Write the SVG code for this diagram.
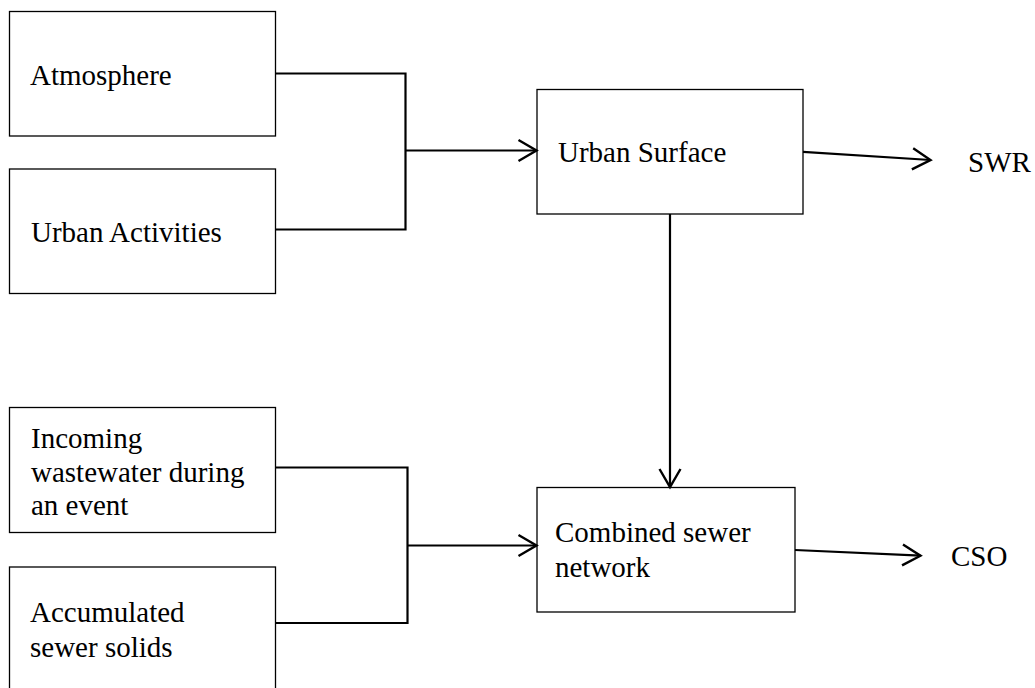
<svg xmlns="http://www.w3.org/2000/svg" width="1035" height="688" viewBox="0 0 1035 688">
<style>
.box{fill:#fff;stroke:#000;stroke-width:1.3}
.lbl{font-family:"Liberation Serif","Times New Roman",serif;font-size:29px;fill:#000}
.con{fill:none;stroke:#000;stroke-width:2.2}
</style>
<defs>
<marker id="arr" markerUnits="userSpaceOnUse" markerWidth="24" markerHeight="26" refX="20" refY="12" orient="auto" overflow="visible">
<path d="M2,1.5 L20,12 L2,22.5" fill="none" stroke="#000" stroke-width="2.4"/>
</marker>
</defs>
<rect width="1035" height="688" fill="#fff"/>
<g id="atmosphere"><rect class="box" x="9.5" y="11.5" width="266" height="124.5"/><text class="lbl" x="30" y="85">Atmosphere</text></g>
<g id="urban-activities"><rect class="box" x="9.5" y="169" width="266" height="124.5"/><text class="lbl" x="31" y="241.5">Urban Activities</text></g>
<g id="urban-surface"><rect class="box" x="537" y="89.5" width="266" height="124.5"/><text class="lbl" x="558" y="161.5">Urban Surface</text></g>
<g id="swr"><text class="lbl" x="968" y="171.5">SWR</text></g>
<g id="incoming"><rect class="box" x="9.5" y="407.5" width="266" height="125"/><text class="lbl" x="31" y="448">Incoming</text><text class="lbl" x="31" y="482">wastewater during</text><text class="lbl" x="31" y="515">an event</text></g>
<g id="accumulated"><rect class="box" x="9.5" y="567" width="266" height="130"/><text class="lbl" x="30" y="621.5">Accumulated</text><text class="lbl" x="30" y="656.5">sewer solids</text></g>
<g id="combined"><rect class="box" x="537" y="487.5" width="258" height="124.5"/><text class="lbl" x="555" y="541.5">Combined sewer</text><text class="lbl" x="555" y="576.5">network</text></g>
<g id="cso"><text class="lbl" x="951" y="566">CSO</text></g>
<g id="connectors">
<path class="con" d="M276,73.5 H405.5 V229.5 H276"/>
<path class="con" d="M405.5,150.5 H536.5" marker-end="url(#arr)"/>
<path class="con" d="M803,151.8 L930.5,160" marker-end="url(#arr)"/>
<path class="con" d="M670,214 V487" marker-end="url(#arr)"/>
<path class="con" d="M276,467.5 H407.5 V623 H276"/>
<path class="con" d="M407.5,545.5 H536.5" marker-end="url(#arr)"/>
<path class="con" d="M795,550 L920.5,555.7" marker-end="url(#arr)"/>
</g>
</svg>
